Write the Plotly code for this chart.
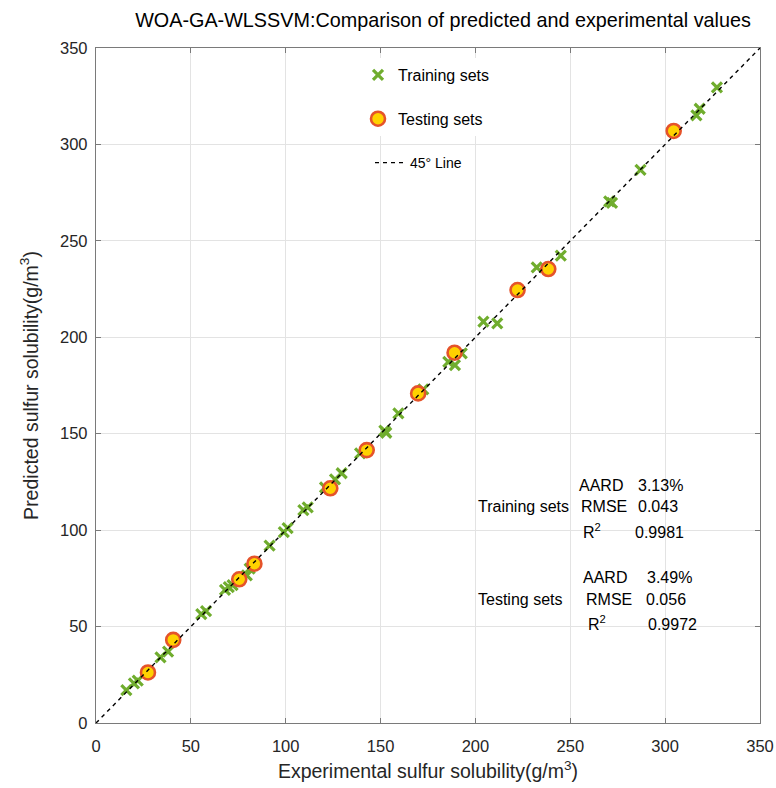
import plotly.graph_objects as go

# ---- data ----
train_exp = [16, 20, 22, 34, 38, 55.5, 58, 68, 70, 72, 79.5, 81, 91.5, 99, 101,
             109.3, 111.6, 120.7, 126, 129.5, 139.2, 152, 153, 159.4, 172.5,
             185.7, 189.2, 192.8, 204.2, 211.5, 232.3, 245, 270.5, 272, 287,
             316.5, 318.2, 327.3]
train_pred = [17, 20.5, 22, 34, 37, 56.5, 58, 69, 70.5, 71.5, 76.5, 80, 92, 99, 101,
              110.4, 111.8, 122.2, 126.3, 129.5, 139.8, 151.6, 150.5, 160.6, 173,
              187.3, 185.6, 191.7, 208.1, 207.2, 236.3, 242.3, 270.5, 269.7, 286.8,
              315.1, 318.5, 329.6]
test_exp = [27.4, 40.7, 75.5, 83.5, 123.5, 142.7, 169.8, 189, 222.2, 238.4, 304.5]
test_pred = [26.2, 43.1, 74.5, 82.6, 121.7, 141.5, 170.9, 192, 224.5, 235.4, 307]
line_xy = [0, 350]

x_ticks = [0, 50, 100, 150, 200, 250, 300, 350]
y_ticks = [0, 50, 100, 150, 200, 250, 300, 350]

stats_train = [("AARD", "3.13%"), ("RMSE", "0.043"), ("R<sup>2</sup>", "0.9981")]
stats_test = [("AARD", "3.49%"), ("RMSE", "0.056"), ("R<sup>2</sup>", "0.9972")]

# ---- layout geometry ----
W, H = 776, 788
L, R, T, B = 96, 16, 48, 65
PW, PH = W - L - R, H - T - B


def px(xp):
    return (xp - L) / PW


def py(yp):
    return (H - B - yp) / PH


FONT = "Liberation Sans, Arial, sans-serif"
TXT = "#262626"

fig = go.Figure()
fig.add_trace(go.Scatter(
    x=train_exp, y=train_pred, mode="markers", name="Training sets",
    legendgroup="a", legend="legend",
    marker=dict(symbol="x-thin", size=10, color="#70ad2e",
                line=dict(color="#70ad2e", width=3.2)),
))
fig.add_trace(go.Scatter(
    x=test_exp, y=test_pred, mode="markers", name="Testing sets",
    legendgroup="b", legend="legend",
    marker=dict(symbol="circle", size=14, color="#ffd200",
                line=dict(color="#e5532a", width=2.6)),
))
fig.add_trace(go.Scatter(
    x=line_xy, y=line_xy, mode="lines", name="45° Line",
    legend="legend2",
    line=dict(color="black", width=1.4, dash="4px,4px"),
))

ann = []


def add_text(text, xp, yp, size=16):
    ann.append(dict(text=text, x=px(xp), y=py(yp), xref="paper", yref="paper",
                    xanchor="left", yanchor="middle", showarrow=False,
                    font=dict(family=FONT, size=size, color="black")))


add_text("Training sets", 476, 507)
ry = [485, 507, 531]
lx = [577, 579, 581]
vx = [636, 636, 633]
for (k, v), yy, a, b in zip(stats_train, ry, lx, vx):
    add_text(k, a, yy)
    add_text(v, b, yy + (1 if k.startswith("R<") else 0))

add_text("Testing sets", 476, 599)
ry = [577, 599, 623]
lx = [581, 584, 586]
vx = [645, 644, 646]
for (k, v), yy, a, b in zip(stats_test, ry, lx, vx):
    add_text(k, a, yy)
    add_text(v, b, yy + (1 if k.startswith("R<") else 0))

axis_common = dict(
    range=[0, 350], showgrid=True, gridcolor="#e3e3e3", gridwidth=1,
    zeroline=False, showline=True, linecolor="#7a7a7a", linewidth=1.3,
    mirror="ticks", ticks="inside", ticklen=5, tickcolor="#7a7a7a",
    tickfont=dict(family=FONT, size=16.5, color=TXT), automargin=False,
)

fig.update_layout(
    width=W, height=H,
    margin=dict(l=L, r=R, t=T, b=B),
    paper_bgcolor="white", plot_bgcolor="white",
    title=dict(text="WOA-GA-WLSSVM:Comparison of predicted and experimental values",
               x=443 / W, xref="container", xanchor="center",
               y=1 - 20 / H, yref="container", yanchor="middle",
               font=dict(family=FONT, size=19.8, color="black")),
    xaxis=dict(**axis_common, tickvals=x_ticks, ticklabelstandoff=8,
               title=dict(text="Experimental sulfur solubility(g/m<sup>3</sup>)",
                          font=dict(family=FONT, size=19.5, color=TXT), standoff=10)),
    yaxis=dict(**axis_common, tickvals=y_ticks, ticklabelstandoff=4,
               title=dict(text="Predicted sulfur solubility(g/m<sup>3</sup>)",
                          font=dict(family=FONT, size=19.5, color=TXT), standoff=16)),
    legend=dict(x=px(358), y=py(58), xanchor="left", yanchor="top",
                bgcolor="white", borderwidth=0, tracegroupgap=20,
                font=dict(family=FONT, size=16, color="black"),
                itemsizing="trace"),
    legend2=dict(x=px(370), y=py(147), xanchor="left", yanchor="top",
                 bgcolor="rgba(0,0,0,0)", borderwidth=0,
                 font=dict(family=FONT, size=14, color="black")),
    annotations=ann,
    showlegend=True,
)

fig.write_html("out.html")
